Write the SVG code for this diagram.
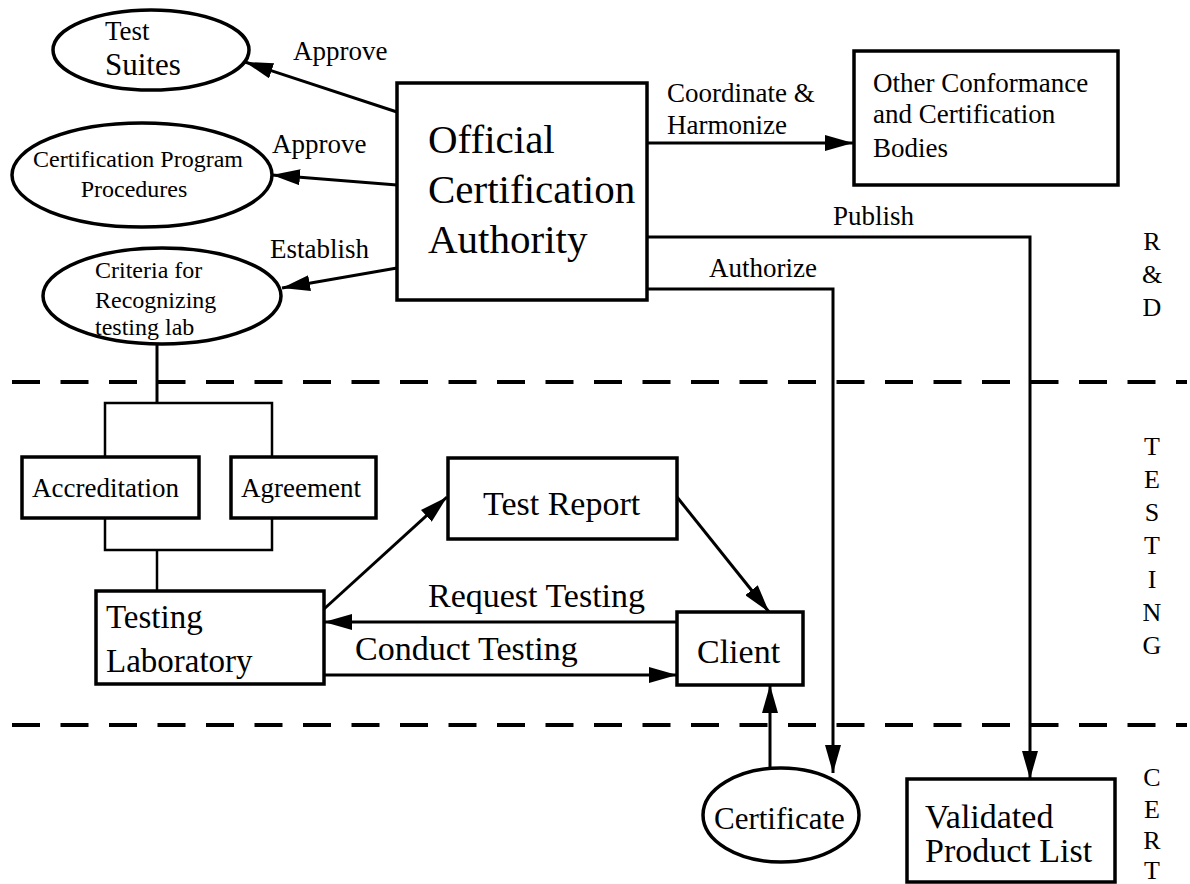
<svg xmlns="http://www.w3.org/2000/svg" width="1190" height="884" viewBox="0 0 1190 884" font-family="Liberation Serif, Tinos, Times New Roman, DejaVu Serif, serif">
<style>
.box{fill:#fff;stroke:#000;stroke-width:3.5}
.ell{fill:#fff;stroke:#000;stroke-width:3.5}
.c{fill:none;stroke:#000;stroke-width:3}
.b{fill:none;stroke:#000;stroke-width:2.5}
.arr{marker-end:url(#ah)}
.dash{fill:none;stroke:#000;stroke-width:4;stroke-dasharray:28 20.5}
.lbl{font-size:27px}
.side{font-size:26px;text-anchor:middle}
</style>
<defs>
<marker id="ah" viewBox="0 0 28 16" refX="28" refY="8" markerWidth="28" markerHeight="16" markerUnits="userSpaceOnUse" orient="auto">
<path d="M0,0 L28,8 L0,16 z" fill="#000"/>
</marker>
</defs>
<rect width="1190" height="884" fill="#fff"/>
<g id="lanes">
<line class="dash" x1="12" y1="382" x2="1187" y2="382"/>
<line class="dash" x1="12" y1="725" x2="1187" y2="725"/>
<g class="side">
<text x="1152" y="250">R</text>
<text x="1152" y="283">&amp;</text>
<text x="1152" y="316">D</text>
<text x="1152" y="455">T</text>
<text x="1152" y="488">E</text>
<text x="1152" y="521">S</text>
<text x="1152" y="554">T</text>
<text x="1152" y="588">I</text>
<text x="1152" y="621">N</text>
<text x="1152" y="654">G</text>
<text x="1152" y="786">C</text>
<text x="1152" y="818">E</text>
<text x="1152" y="849">R</text>
<text x="1152" y="879">T</text>
</g>
</g>
<g id="connectors">
<line class="c arr" x1="397" y1="112" x2="245" y2="62"/>
<line class="c arr" x1="397" y1="185" x2="272" y2="175"/>
<line class="c arr" x1="397" y1="268" x2="282" y2="288"/>
<line class="c arr" x1="647" y1="143" x2="853" y2="143"/>
<polyline class="c arr" points="647,237 1030,237 1030,779"/>
<polyline class="c arr" points="647,289 833,289 833,773"/>
<line class="c" x1="157" y1="343" x2="157" y2="403"/>
<polyline class="b" points="105,457 105,403 272,403 272,457"/>
<polyline class="b" points="105,518 105,550 272,550 272,518"/>
<line class="b" x1="157" y1="550" x2="157" y2="591"/>
<line class="c arr" x1="324" y1="609" x2="447" y2="497"/>
<line class="c arr" x1="677" y1="497" x2="769" y2="612"/>
<line class="c arr" x1="677" y1="622" x2="324" y2="622"/>
<line class="c arr" x1="324" y1="675" x2="677" y2="675"/>
<line class="c arr" x1="770" y1="768" x2="770" y2="685"/>
<g class="lbl">
<text x="293" y="60">Approve</text>
<text x="272" y="153">Approve</text>
<text x="270" y="258">Establish</text>
<text x="667" y="102">Coordinate &amp;</text>
<text x="667" y="134">Harmonize</text>
<text x="833" y="225">Publish</text>
<text x="709" y="277">Authorize</text>
</g>
<text x="428" y="607" font-size="34">Request Testing</text>
<text x="355" y="660" font-size="34">Conduct Testing</text>
</g>
<g id="test-suites">
<ellipse class="ell" cx="151" cy="50" rx="98" ry="40"/>
<text x="105" y="40" font-size="27">Test</text>
<text x="105" y="75" font-size="31">Suites</text>
</g>
<g id="cert-program">
<ellipse class="ell" cx="142" cy="175" rx="130" ry="52"/>
<text x="138" y="167" font-size="24" text-anchor="middle">Certification Program</text>
<text x="134" y="197" font-size="24" text-anchor="middle">Procedures</text>
</g>
<g id="criteria">
<ellipse class="ell" cx="162" cy="296" rx="119" ry="48"/>
<text x="95" y="278" font-size="24">Criteria for</text>
<text x="95" y="308" font-size="24">Recognizing</text>
<text x="95" y="335" font-size="24">testing lab</text>
</g>
<g id="authority">
<rect class="box" x="397" y="83" width="250" height="217"/>
<text x="428" y="153" font-size="41">Official</text>
<text x="428" y="203" font-size="41">Certification</text>
<text x="428" y="253" font-size="41">Authority</text>
</g>
<g id="other-bodies">
<rect class="box" x="854" y="51" width="264" height="134"/>
<text x="873" y="92" font-size="27">Other Conformance</text>
<text x="873" y="123" font-size="27">and Certification</text>
<text x="873" y="157" font-size="27">Bodies</text>
</g>
<g id="accreditation">
<rect class="box" x="22" y="457" width="177" height="61"/>
<text x="32" y="497" font-size="27">Accreditation</text>
</g>
<g id="agreement">
<rect class="box" x="231" y="457" width="145" height="61"/>
<text x="241" y="497" font-size="27">Agreement</text>
</g>
<g id="testing-lab">
<rect class="box" x="96" y="591" width="228" height="93"/>
<text x="106" y="628" font-size="33">Testing</text>
<text x="106" y="672" font-size="33">Laboratory</text>
</g>
<g id="test-report">
<rect class="box" x="448" y="458" width="229" height="81"/>
<text x="483" y="515" font-size="34">Test Report</text>
</g>
<g id="client">
<rect class="box" x="677" y="612" width="126" height="73"/>
<text x="697" y="663" font-size="34">Client</text>
</g>
<g id="certificate">
<ellipse class="ell" cx="781" cy="815" rx="78" ry="47"/>
<text x="714" y="829" font-size="31">Certificate</text>
</g>
<g id="validated-list">
<rect class="box" x="907" y="779" width="208" height="103"/>
<text x="925" y="828" font-size="34">Validated</text>
<text x="925" y="862" font-size="34">Product List</text>
</g>
</svg>
